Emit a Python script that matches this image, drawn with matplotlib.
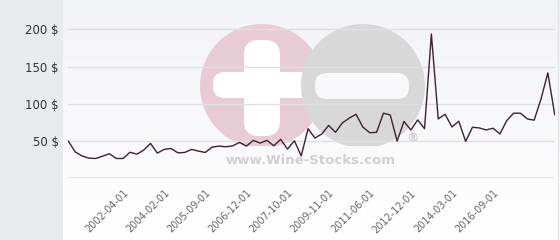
import matplotlib
matplotlib.use('Agg')
import matplotlib.pyplot as plt
import matplotlib.transforms as mtrans
import numpy as np
from matplotlib.patches import Rectangle, Circle, FancyBboxPatch

# price history, one value per listing
prices = [50, 35.5, 30, 27, 26.6, 29.7, 33, 26.6, 26.6, 35,
          32.4, 37.8, 46.8, 33.8, 38.8, 40, 34.2, 34.7, 38.8, 36.5,
          34.7, 41.9, 43.2, 42.3, 43.6, 48.2, 43.2, 50.9, 47.3, 50.9,
          43.6, 52.3, 39.2, 50.4, 30.1, 66.6, 54, 59.5, 71, 61.7,
          74.3, 80.7, 86, 68.7, 61.2, 61.7, 87.4, 85, 49.8, 76.4,
          64.9, 78.4, 66.6, 193.6, 79.7, 86, 68.9, 76.6, 49.6, 68.5,
          67.6, 64.9, 67.2, 59.5, 77.4, 87.4, 87.4, 79.7, 78, 106.4,
          141.5, 85.5]
tick_idx = [8, 14, 20, 26, 32, 38, 44, 50, 56, 62]
tick_labels = ['2002-04-01', '2004-02-01', '2005-09-01', '2006-12-01', '2007-10-01',
               '2009-11-01', '2011-06-01', '2012-12-01', '2014-03-01', '2016-09-01']
y_ticks = [50, 100, 150, 200]

W, H = 560, 240
fig = plt.figure(figsize=(W / 100, H / 100), dpi=100)
fig.patch.set_facecolor('white')

# background: grey side panel + light gradient panel
bg = fig.add_axes([0, 0, 1, 1], zorder=-10)
bg.set_xlim(0, W)
bg.set_ylim(H, 0)
bg.axis('off')
grad = np.linspace(0, 1, 100).reshape(-1, 1)
top = np.array([0.95, 0.953, 0.968])
bot = np.array([1.0, 1.0, 1.0])
img = top[None, None, :] * (1 - grad[:, :, None]) + bot[None, None, :] * grad[:, :, None]
bg.imshow(img, extent=[63, W, H, 0], aspect='auto')
bg.add_patch(Rectangle((0, 0), 63, H, color='#e7ebee', lw=0))
bg.plot([558, 558], [0, H], color='#e3e3e8', lw=1)

# watermark
bg.add_patch(Circle((262, 86), 62, color='#e8ccd5', lw=0))
bg.add_patch(FancyBboxPatch((244, 40), 36, 96, boxstyle='round,pad=0,rounding_size=15', color='white', lw=0))
bg.add_patch(FancyBboxPatch((213, 72), 98, 26, boxstyle='round,pad=0,rounding_size=12', color='white', lw=0))
bg.add_patch(Circle((363, 86), 62, color='#d8d8d9', lw=0))
bg.add_patch(FancyBboxPatch((315, 73), 94, 26, boxstyle='round,pad=0,rounding_size=12', color='#f8f8fa', lw=0))
bg.add_patch(Rectangle((197, 146), 231, 28, color='#fbfbfc', lw=0, alpha=0.85))
bg.text(311, 161, 'www.Wine-Stocks.com', ha='center', va='center', fontsize=9.5,
        fontweight='bold', color='#d0d0d3')
bg.text(413, 139, '®', ha='center', va='center', fontsize=9, fontweight='bold', color='#cfcfd2')

left, right = 68.3, 554.7
y0 = 178.3
ax = fig.add_axes([left / W, (H - y0) / H, (right - left) / W, y0 / H])
ax.set_facecolor('none')
x = np.arange(len(prices))
ax.plot(x, prices, color='#3a2230', lw=1.0, zorder=3)
ax.set_xlim(0, len(prices) - 1)
ax.set_ylim(0, y0 / 0.745)

ax.set_yticks(y_ticks)
ax.set_yticklabels(['%d $' % v for v in y_ticks], fontsize=8.5, color='#333333')
ax.yaxis.grid(True, color='#e0e0e4', lw=1)
ax.axhline(0, color='#dcdcdf', lw=1.2, zorder=2)
ax.set_xticks(tick_idx)
ax.set_xticklabels(tick_labels, rotation=45, ha='right', rotation_mode='anchor',
                   fontsize=7, color='#666666')
shift = mtrans.ScaledTranslation(4 / 100, 0, fig.dpi_scale_trans)
for lab in ax.get_xticklabels():
    lab.set_transform(lab.get_transform() + shift)
ax.tick_params(axis='both', length=0)
ax.tick_params(axis='y', pad=7)
ax.tick_params(axis='x', pad=7)
for s in ax.spines.values():
    s.set_visible(False)

fig.savefig('out.png', dpi=100)
